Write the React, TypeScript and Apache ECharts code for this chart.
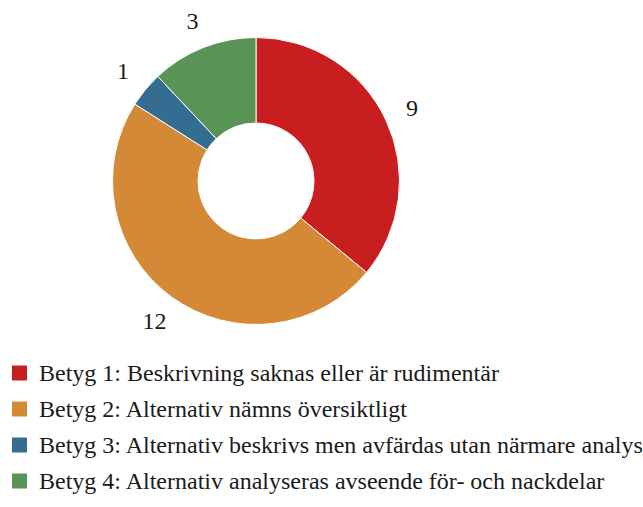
import React, { useEffect, useRef } from "react";
import * as echarts from "echarts";

const categories = [
  "Betyg 1: Beskrivning saknas eller är rudimentär",
  "Betyg 2: Alternativ nämns översiktligt",
  "Betyg 3: Alternativ beskrivs men avfärdas utan närmare analys",
  "Betyg 4: Alternativ analyseras avseende för- och nackdelar",
];
const values = [9, 12, 1, 3];
const colors = ["#c81e20", "#d48937", "#356c92", "#5a9356"];

const FONT = "'Liberation Serif', 'DejaVu Serif', serif";

export default function App() {
  const ref = useRef<HTMLDivElement>(null);
  useEffect(() => {
    document.body.style.margin = "0";
    if (!ref.current) return;
    const chart = echarts.init(ref.current, undefined, { renderer: "svg" });
    const data = categories.map((name, i) => ({ name, value: values[i] }));
    chart.setOption({
      animation: false,
      color: colors,
      legend: {
        orient: "vertical",
        left: 10,
        top: 361,
        padding: 0,
        icon: "rect",
        itemWidth: 17,
        itemHeight: 17,
        itemGap: 12,
        selectedMode: false,
        data: categories,
        textStyle: {
          fontFamily: FONT,
          fontSize: 24,
          lineHeight: 24,
          color: "#1a1a1a",
          padding: [0, 0, 0, 6],
        },
      },
      series: [
        {
          type: "pie",
          center: [256, 181],
          radius: [58, 143.5],
          startAngle: 90,
          clockwise: true,
          silent: true,
          itemStyle: { borderColor: "#ffffff", borderWidth: 1 },
          label: { show: false },
          labelLine: { show: false },
          data,
        },
        {
          type: "pie",
          center: [256, 181],
          radius: [151, 188],
          startAngle: 90,
          clockwise: true,
          silent: true,
          itemStyle: { color: "rgba(0,0,0,0)" },
          label: {
            show: true,
            position: "inside",
            formatter: "{c}",
            fontFamily: FONT,
            fontSize: 24,
            color: "#1a1a1a",
          },
          labelLine: { show: false },
          data,
        },
      ],
    });
    return () => chart.dispose();
  }, []);
  return <div ref={ref} style={{ width: 643, height: 507 }} />;
}
